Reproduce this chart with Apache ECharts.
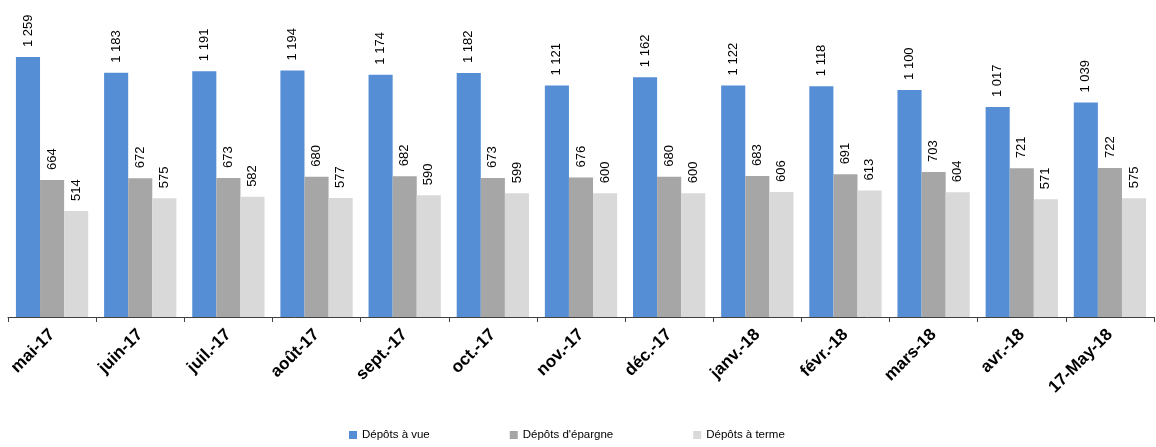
<!DOCTYPE html>
<html><head><meta charset="utf-8">
<script src="https://cdn.jsdelivr.net/npm/echarts@6/dist/echarts.min.js"></script>
<style>html,body{margin:0;padding:0;background:#fff}#c{width:1156px;height:447px}</style>
</head><body><div id="c"></div>
<script>
const categories = ['mai-17','juin-17','juil.-17','août-17','sept.-17','oct.-17','nov.-17','déc.-17','janv.-18','févr.-18','mars-18','avr.-18','17-May-18'];
const seriesNames = ['Dépôts à vue','Dépôts d\'épargne','Dépôts à terme'];
const depotsVue = [1259,1183,1191,1194,1174,1182,1121,1162,1122,1118,1100,1017,1039];
const depotsEpargne = [664,672,673,680,682,673,676,680,683,691,703,721,722];
const depotsTerme = [514,575,582,577,590,599,600,600,606,613,604,571,575];
const colors = ['#558ED5','#A6A6A6','#D9D9D9'];

function fmt(v){ return String(v).replace(/\B(?=(\d{3})+(?!\d))/g,' '); }
const font = '"Liberation Sans", Arial, sans-serif';
function mk(name, data, color){
  return {name, type:'bar', data, itemStyle:{color},
    barGap:'0%', barCategoryGap:'18%',
    label:{show:true, position:'top', rotate:90, align:'left', verticalAlign:'middle', distance:10,
      formatter:p=>fmt(p.value), fontFamily:font, fontSize:13, color:'#000'}};
}
const chart = echarts.init(document.getElementById('c'));
chart.setOption({
  animation:false,
  grid:{left:8, right:2, top:28, bottom:130},
  legend:{bottom:1, left:344, itemWidth:8, itemHeight:8, itemGap:80, icon:'rect',
    textStyle:{fontFamily:font, fontSize:11.5, color:'#000'}, data:seriesNames},
  xAxis:{type:'category', data:categories,
    axisLine:{lineStyle:{color:'#404040', width:1}},
    axisTick:{show:true, alignWithLabel:false, length:5, lineStyle:{color:'#404040'}},
    axisLabel:{rotate:45, fontFamily:font, fontSize:17, fontWeight:'bold', color:'#000', margin:15, interval:0}},
  yAxis:{type:'value', min:0, max:1400, show:false, splitLine:{show:false}},
  series:[mk(seriesNames[0],depotsVue,colors[0]), mk(seriesNames[1],depotsEpargne,colors[1]), mk(seriesNames[2],depotsTerme,colors[2])]
});
</script></body></html>
